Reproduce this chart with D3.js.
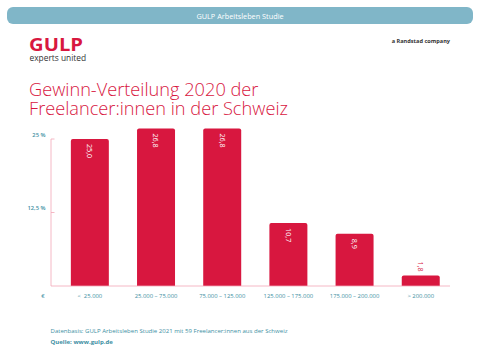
<!DOCTYPE html>
<html>
<head>
<meta charset="utf-8">
<script src="https://cdn.jsdelivr.net/npm/d3@7"></script>
<style>
  body { margin: 0; background: #fff; }
  svg { display: block; font-family: "Open Sans", sans-serif; }
</style>
</head>
<body>
<svg id="chart"></svg>
<script>
// data
var categories = ["<  25.000", "25.000 – 75.000", "75.000 – 125.000", "125.000 – 175.000", "175.000 – 200.000", "> 200.000"];
var values = [25.0, 26.8, 26.8, 10.7, 8.9, 1.8];
var yTicks = [12.5, 25];
var yTickLabels = ["12,5 %", "25 %"];

var dimensions = {
    width: 480,
    height: 360,
    baseline: 286,
    axisX: 51
};

var red = "#d8173f";
var teal = "#3d8fa3";

var svg = d3.select("#chart")
    .attr("width", dimensions.width)
    .attr("height", dimensions.height);

// header bar
svg.append("rect")
    .attr("x", 7).attr("y", 7)
    .attr("width", 466).attr("height", 17)
    .attr("rx", 6)
    .attr("fill", "#80b6c8");

svg.append("text")
    .attr("x", 240).attr("y", 18.5)
    .attr("text-anchor", "middle")
    .attr("font-size", "7.3px")
    .attr("fill", "#fff")
    .text("GULP Arbeitsleben Studie");

// logo
svg.append("text")
    .attr("x", 29).attr("y", 50.7)
    .attr("font-size", "17.5px")
    .attr("font-weight", "bold")
    .attr("fill", red)
    .attr("textLength", 54)
    .attr("lengthAdjust", "spacingAndGlyphs")
    .text("GULP");

svg.append("text")
    .attr("x", 29.5).attr("y", 60.7)
    .attr("font-size", "8.4px")
    .attr("fill", "#333")
    .text("experts united");

svg.append("text")
    .attr("x", 450).attr("y", 43.3)
    .attr("text-anchor", "end")
    .attr("font-size", "5.6px")
    .attr("font-weight", "bold")
    .attr("fill", "#333")
    .text("a Randstad company");

// title
var title = svg.append("text")
    .attr("font-size", "18.2px")
    .attr("font-weight", 300)
    .attr("fill", red);
title.append("tspan").attr("x", 29).attr("y", 96).text("Gewinn-Verteilung 2020 der");
title.append("tspan").attr("x", 29).attr("y", 114.7).text("Freelancer:innen in der Schweiz");

// scales
var xScale = d3.scaleBand()
    .domain(categories)
    .range([51, 459.6])
    .paddingInner(0.426)
    .paddingOuter(0.3);

var yScale = d3.scaleLinear()
    .domain([0, 25])
    .range([dimensions.baseline, 139]);

// axis lines
svg.append("line")
    .attr("x1", dimensions.axisX).attr("x2", dimensions.axisX)
    .attr("y1", yScale(25)).attr("y2", dimensions.baseline)
    .attr("stroke", "#f3a6b6").attr("stroke-width", 0.8);

svg.selectAll(".ytick")
    .data(yTicks)
    .enter()
    .append("line")
    .attr("class", "ytick")
    .attr("x1", dimensions.axisX).attr("x2", dimensions.axisX + 3.5)
    .attr("y1", d => yScale(d)).attr("y2", d => yScale(d))
    .attr("stroke", "#f3a6b6").attr("stroke-width", 0.8);

svg.selectAll(".ylabel")
    .data(yTicks)
    .enter()
    .append("text")
    .attr("class", "ylabel")
    .attr("x", 45.5)
    .attr("y", d => yScale(d) - 2.5)
    .attr("text-anchor", "end")
    .attr("font-size", "5.8px")
    .attr("font-weight", 600)
    .attr("fill", teal)
    .text((d, i) => yTickLabels[i]);

// bars with rounded tops
var r = 2;
svg.selectAll(".bar")
    .data(values)
    .enter()
    .append("path")
    .attr("class", "bar")
    .attr("d", (d, i) => {
        var x0 = xScale(categories[i]);
        var x1 = x0 + xScale.bandwidth();
        var y0 = yScale(d);
        var y1 = dimensions.baseline;
        return `M${x0},${y1}V${y0 + r}Q${x0},${y0} ${x0 + r},${y0}H${x1 - r}Q${x1},${y0} ${x1},${y0 + r}V${y1}Z`;
    })
    .attr("fill", red);

// baseline
svg.append("line")
    .attr("x1", dimensions.axisX).attr("x2", 450)
    .attr("y1", dimensions.baseline).attr("y2", dimensions.baseline)
    .attr("stroke", "#f3a6b6").attr("stroke-width", 0.8);

// value labels (rotated)
svg.selectAll(".value")
    .data(values)
    .enter()
    .append("text")
    .attr("class", "value")
    .attr("transform", (d, i) => {
        var cx = xScale(categories[i]) + xScale.bandwidth() / 2;
        var top = d < 5 ? yScale(d) - 14 : yScale(d) + 5;
        return `translate(${cx},${top}) rotate(90)`;
    })
    .attr("dy", "0.35em")
    .attr("font-size", "7.2px")
    .attr("fill", d => d < 5 ? red : "#fff")
    .text(d => d.toFixed(1).replace(".", ","));

// category labels
svg.selectAll(".xlabel")
    .data(categories)
    .enter()
    .append("text")
    .attr("class", "xlabel")
    .attr("x", d => xScale(d) + xScale.bandwidth() / 2)
    .attr("y", 297.7)
    .attr("text-anchor", "middle")
    .attr("font-size", "5.9px")
    .attr("fill", teal)
    .attr("xml:space", "preserve")
    .text(d => d);

svg.append("text")
    .attr("x", 43).attr("y", 297.5)
    .attr("text-anchor", "middle")
    .attr("font-size", "6px")
    .attr("fill", teal)
    .text("€");

// footer
svg.append("text")
    .attr("x", 50.5).attr("y", 333.3)
    .attr("font-size", "6.05px")
    .attr("fill", teal)
    .text("Datenbasis: GULP Arbeitsleben Studie 2021 mit 59 Freelancer:innen aus der Schweiz");

svg.append("text")
    .attr("x", 50.5).attr("y", 343.5)
    .attr("font-size", "6.05px")
    .attr("font-weight", "bold")
    .attr("fill", teal)
    .text("Quelle: www.gulp.de");
</script>
</body>
</html>
